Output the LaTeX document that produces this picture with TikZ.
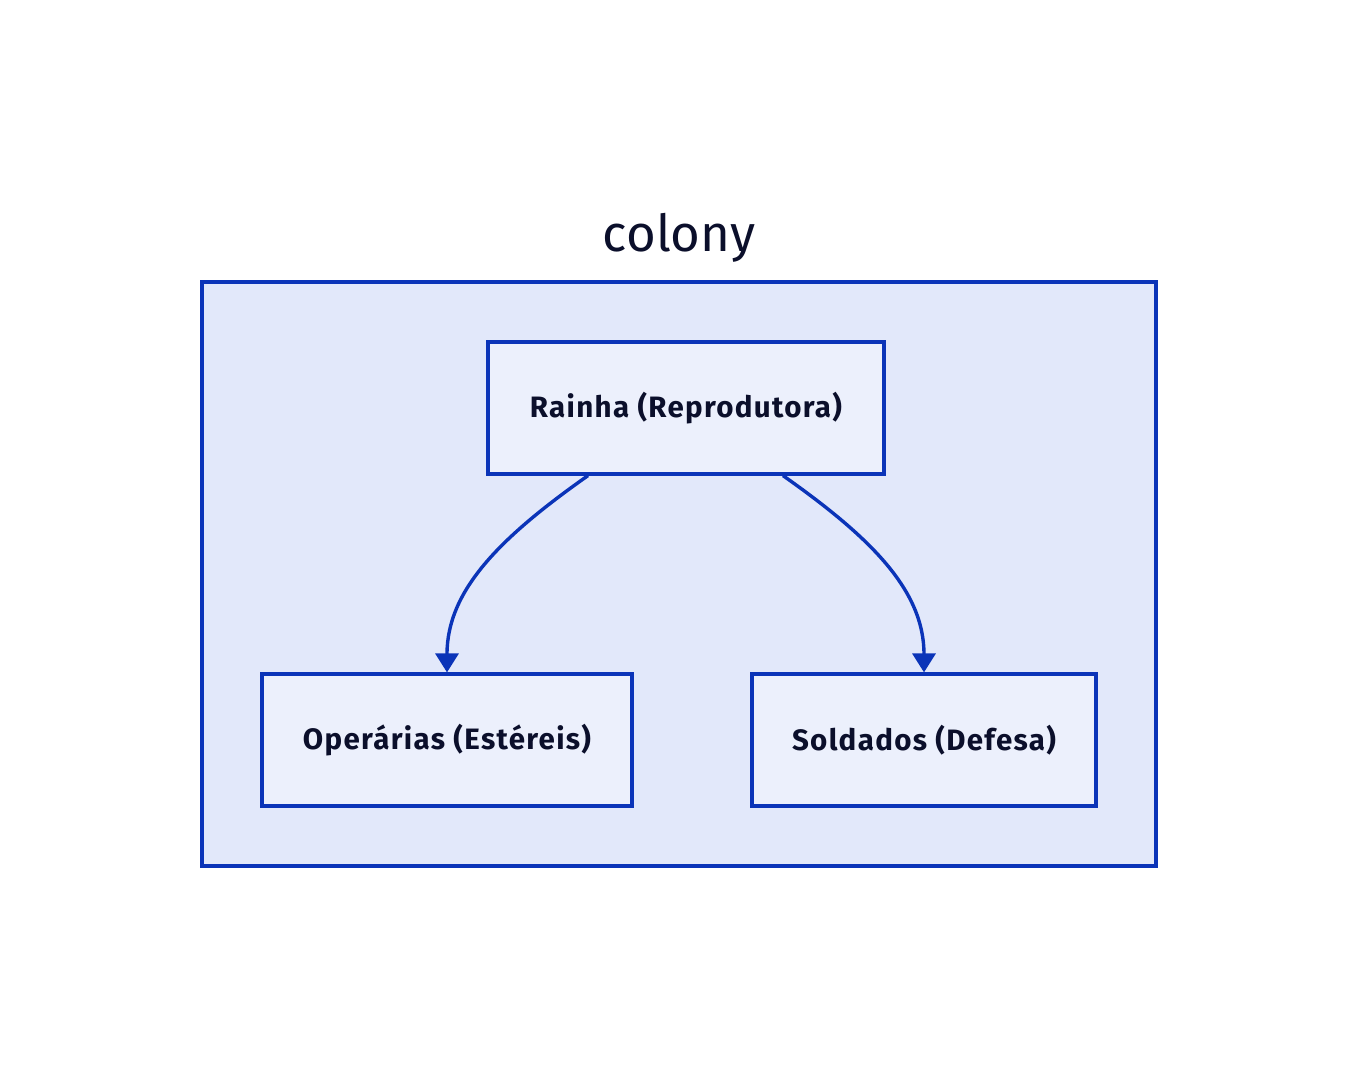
\documentclass[tikz,border=0pt]{standalone}
\usepackage{fontspec}
\setmainfont{Fira Sans}
\newfontfamily\labelfont{Fira Sans}[LetterSpace=4.5]
\usetikzlibrary{arrows.meta}
\definecolor{edge}{HTML}{0B34B8}
\definecolor{ink}{HTML}{0B0F2B}
\definecolor{outerfill}{HTML}{E2E8FA}
\definecolor{innerfill}{HTML}{ECF0FC}
\tikzset{
  box/.style={draw=edge, line width=3.2pt, fill=innerfill, inner sep=0pt, text=ink, font=\labelfont\bfseries\fontsize{29.5}{34}\selectfont},
  link/.style={draw=edge, line width=3.4pt, -{Triangle[width=23pt,length=19pt]}},
}
\begin{document}
\begin{tikzpicture}[x=1pt,y=-1pt]
\useasboundingbox (0,0) rectangle (1358,1068);
\fill[white] (0,0) rectangle (1358,1068);
\node[draw=edge, line width=3.2pt, fill=outerfill, minimum width=954pt, minimum height=584pt, inner sep=0pt] (colony) at (679,574) {};
\node[text=ink, font=\fontsize{51}{58}\selectfont] (title) at (679,238) {colony};
\node[box, minimum width=396pt, minimum height=132pt] (queen) at (686,408) {Rainha (Reprodutora)};
\node[box, minimum width=370pt, minimum height=132pt] (work) at (447,740) {Operárias (Estéreis)};
\node[box, minimum width=344pt, minimum height=132pt] (sold) at (924,740) {Soldados (Defesa)};
\draw[link] ([xshift=-98pt]queen.south) .. controls +(-88,62) and +(0,-82) .. (work.north);
\draw[link] ([xshift=97pt]queen.south) .. controls +(88,62) and +(0,-82) .. (sold.north);
\end{tikzpicture}
\end{document}
